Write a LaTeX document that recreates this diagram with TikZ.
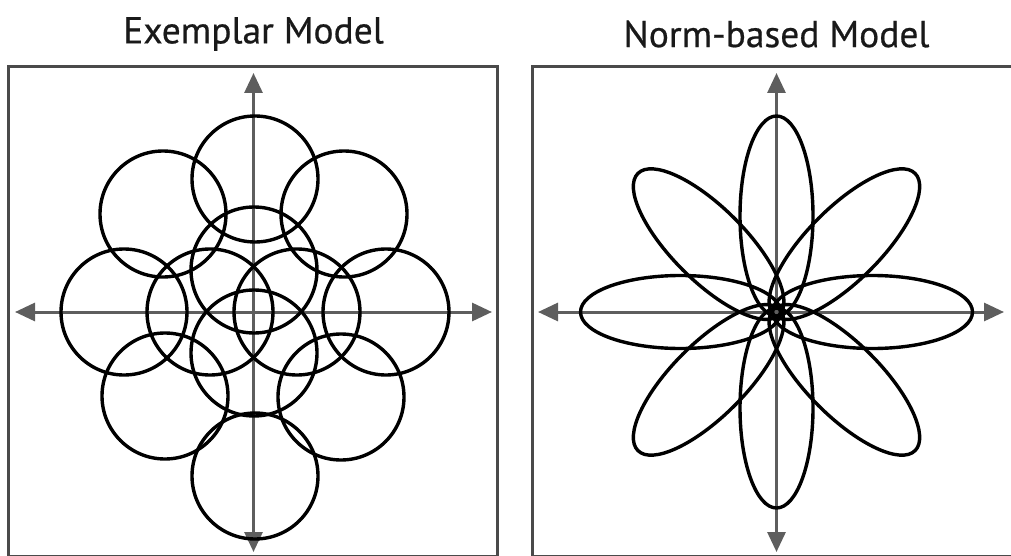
\documentclass[tikz,border=0pt]{standalone}
\usepackage{fontspec}
\setmainfont{PT Sans}
\newfontfamily\titlefont{PT Sans}[FakeBold=0.5]
\usetikzlibrary{arrows.meta}
\definecolor{framegray}{HTML}{4A4A4A}
\definecolor{axisgray}{HTML}{5E5E5E}
\begin{document}
\begin{tikzpicture}[x=1pt,y=-1pt,
  frame/.style={draw=framegray,line width=3pt},
  axis/.style={draw=axisgray,line width=3pt,
    {Triangle[length=20pt,width=18pt]}-{Triangle[length=20pt,width=18pt]}},
  curve/.style={draw=black,line width=3.4pt},
  title/.style={font=\titlefont\fontsize{37.5}{44}\selectfont,inner sep=0pt,text=black!90}]
\useasboundingbox (0,0) rectangle (1011,556);
% frames
\draw[frame] (8.5,67) rectangle (497,556.5);
\draw[frame] (532.5,67) rectangle (1021,556.5);
% titles
\node[title] (t1) at (253.5,34) {Exemplar Model};
\node[title] (t2) at (776.5,34) {Norm-based Model};
% left panel
\coordinate (L) at (253.5,312);
\coordinate (Lw) at (15,312);
\coordinate (Le) at (492,312);
\coordinate (Ln) at (253.5,73);
\coordinate (Ls) at (253.5,552);
\draw[axis] (Lw) -- (Le);
\draw[axis] (Ln) -- (Ls);
\foreach \x/\y in {255/179, 163/214, 344/214, 124/312, 386/312, 165/396, 341/397, 255/476,
                   254/270, 210/312, 297/312, 254/353}
  \draw[curve] (\x,\y) circle[radius=63pt];
% right panel
\coordinate (R) at (776.5,312);
\coordinate (Rw) at (538,312);
\coordinate (Re) at (1004,312);
\coordinate (Rn) at (776.5,73);
\coordinate (Rs) at (776.5,552);
\draw[axis] (Rw) -- (Re);
\draw[axis] (Rn) -- (Rs);
\foreach \a in {0,45,...,315}{
  \begin{scope}[shift={(R)},rotate=\a]
    \draw[curve] (96pt,0pt) ellipse[x radius=100pt,y radius=36.5pt];
  \end{scope}
}
\end{tikzpicture}
\end{document}
